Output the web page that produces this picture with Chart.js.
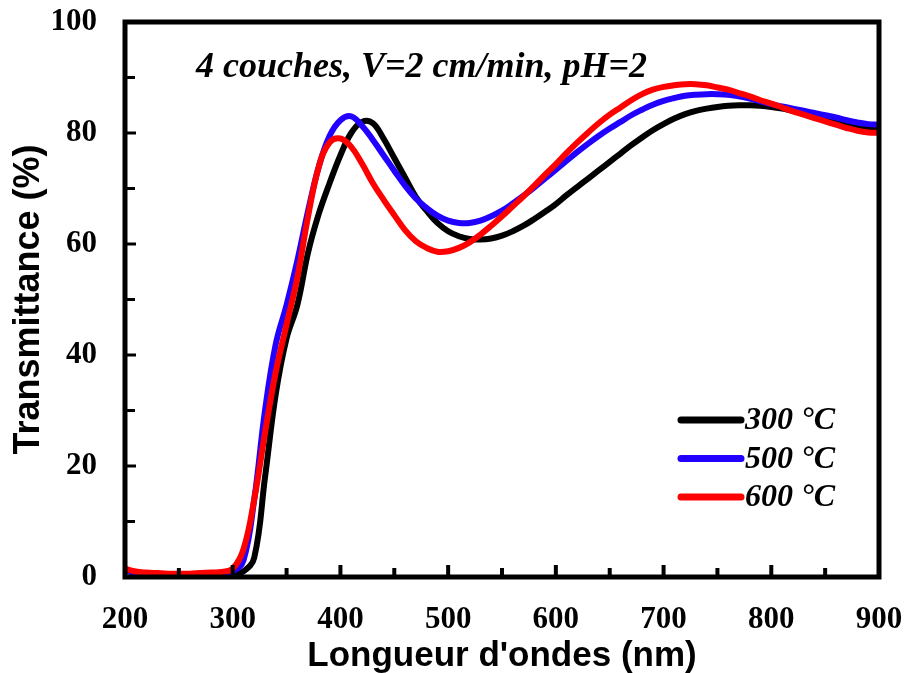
<!DOCTYPE html>
<html><head><meta charset="utf-8">
<script src="https://cdn.jsdelivr.net/npm/chart.js@4/dist/chart.umd.min.js"></script>
<style>html,body{margin:0;padding:0;background:#fff;}canvas{display:block;}</style>
</head><body>
<canvas id="c" width="906" height="673"></canvas>
<script>
const wavelengths = [200,210,220,230,240,250,260,270,280,290,
  300,310,320,330,340,350,360,370,380,390,
  400,410,420,430,440,450,460,470,480,490,
  500,510,520,530,540,550,560,570,580,590,
  600,610,620,630,640,650,660,670,680,690,
  700,710,720,730,740,750,760,770,780,790,
  800,810,820,830,840,850,860,870,880,890,
  900];
const t300 = [1.2,0.8,0.6,0.5,0.5,0.5,0.5,0.6,0.6,0.7,
  0.6,1.0,3.5,18,33,43,49,58.5,65.5,71,
  76,80,82,81.8,79,75.5,72,68.5,66,63.8,
  62.3,61.4,60.9,60.8,61,61.5,62.3,63.3,64.5,65.8,
  67.2,68.8,70.3,71.8,73.3,74.8,76.3,77.8,79.2,80.5,
  81.6,82.6,83.4,84,84.4,84.7,84.9,85,85,84.9,
  84.7,84.4,84,83.6,83.1,82.7,82.2,81.7,81.3,81,
  80.9];
const t500 = [1.2,0.8,0.6,0.5,0.5,0.5,0.5,0.6,0.6,0.8,
  1.0,3,14,30,42,49,57,66,74,79.5,
  82.3,83,81.3,78.8,76,73.2,70.5,68.2,66.5,65.1,
  64.2,63.8,63.8,64.2,65,66,67.3,68.7,70.2,71.8,
  73.4,75,76.6,78.1,79.5,80.8,82,83.2,84.2,85.1,
  85.8,86.3,86.7,86.9,87,87,86.9,86.6,86.2,85.7,
  85.2,84.8,84.4,84,83.6,83.2,82.8,82.3,81.9,81.6,
  81.5];
const t600 = [1.5,1.0,0.8,0.7,0.6,0.6,0.6,0.7,0.8,0.9,
  1.5,5,14,26,37,45.5,54,65,74,78.3,
  79,77.5,74.5,71,68,65.2,62.5,60.5,59.3,58.6,
  58.7,59.3,60.3,61.7,63.3,65,66.8,68.6,70.5,72.5,
  74.4,76.4,78.3,80.1,81.8,83.3,84.6,85.9,87,87.8,
  88.3,88.6,88.8,88.8,88.6,88.2,87.8,87.2,86.6,85.9,
  85.3,84.6,83.9,83.3,82.7,82.1,81.5,80.9,80.4,80.1,
  80];
const seriesLabels = ['300 °C', '500 °C', '600 °C'];
const seriesColors = ['#000000', '#2200ff', '#ff0000'];
const xMajorTicks = [200,300,400,500,600,700,800,900];
const xMinorTicks = [250,350,450,550,650,750,850];
const yMajorTicks = [0,20,40,60,80,100];
const yMinorTicks = [10,30,50,70,90];
const annotationText = '4 couches, V=2 cm/min, pH=2';
const xTitle = "Longueur d'ondes (nm)";
const yTitle = 'Transmittance (%)';

const seriesValues = [t300, t500, t600];
const datasets = seriesValues.map((vals, i) => ({
  label: seriesLabels[i],
  data: wavelengths.map((w, j) => ({x: w, y: vals[j]})),
  borderColor: seriesColors[i],
  backgroundColor: seriesColors[i],
  borderWidth: 6,
  pointRadius: 0,
  tension: 0.4,
  order: 2 - i
}));

const framePlugin = {
  id: 'frameTicks',
  afterDatasetsDraw(chart) {
    const {ctx, chartArea: a, scales: {x, y}} = chart;
    ctx.save();
    ctx.strokeStyle = '#000';
    ctx.lineCap = 'butt';
    ctx.lineWidth = 3;
    yMajorTicks.concat(yMinorTicks).forEach(v => {
      const py = y.getPixelForValue(v);
      const len = yMajorTicks.includes(v) ? 9 : 8;
      ctx.beginPath(); ctx.moveTo(a.left, py); ctx.lineTo(a.left + 2 + len, py); ctx.stroke();
    });
    ctx.lineWidth = 4;
    xMajorTicks.concat(xMinorTicks).forEach(v => {
      const px = x.getPixelForValue(v);
      const len = xMajorTicks.includes(v) ? 10 : 7;
      ctx.beginPath(); ctx.moveTo(px, a.bottom); ctx.lineTo(px, a.bottom - 2 - len); ctx.stroke();
    });
    ctx.lineWidth = 5;
    ctx.lineJoin = 'miter';
    ctx.strokeRect(a.left, a.top, a.right - a.left, a.bottom - a.top);
    ctx.restore();
  }
};

const textPlugin = {
  id: 'texts',
  afterDraw(chart) {
    const {ctx, chartArea: a} = chart;
    ctx.save();
    ctx.fillStyle = '#000';
    ctx.textBaseline = 'middle';
    ctx.textAlign = 'left';
    ctx.font = 'italic bold 36px "Liberation Serif"';
    ctx.fillText(annotationText, a.left + 71, a.top + 46);
    ctx.font = 'italic bold 32px "Liberation Serif"';
    chart.data.datasets.forEach((ds, i) => {
      const yy = a.top + 398 + i * 38.5;
      ctx.strokeStyle = ds.borderColor;
      ctx.lineWidth = 7;
      ctx.lineCap = 'round';
      ctx.beginPath(); ctx.moveTo(a.left + 556, yy); ctx.lineTo(a.left + 616, yy); ctx.stroke();
      ctx.fillText(ds.label, a.left + 620, yy + 1);
    });
    ctx.restore();
  }
};

function zeroPad(s) { s.paddingTop = 0; s.paddingBottom = 0; s.paddingLeft = 0; s.paddingRight = 0; }

new Chart(document.getElementById('c'), {
  type: 'line',
  data: {datasets},
  options: {
    responsive: false,
    animation: false,
    devicePixelRatio: 1,
    layout: {padding: {top: 22, right: 27, left: 0, bottom: 0}},
    plugins: {legend: {display: false}, tooltip: {enabled: false}},
    scales: {
      x: {
        type: 'linear', min: 200, max: 900,
        afterFit(s) { s.height = 96; zeroPad(s); },
        afterBuildTicks(s) { s.ticks = xMajorTicks.map(v => ({value: v})); },
        grid: {display: false, drawTicks: false},
        border: {display: false},
        ticks: {padding: 24, color: '#000', font: {family: '"Liberation Serif"', weight: 'bold', size: 31}},
        title: {display: true, text: xTitle, color: '#000', padding: {top: 0, bottom: -4},
          font: {family: '"Liberation Sans"', weight: 'bold', size: 35}}
      },
      y: {
        type: 'linear', min: 0, max: 100,
        afterFit(s) { s.width = 125; zeroPad(s); },
        afterBuildTicks(s) { s.ticks = yMajorTicks.map(v => ({value: v})); },
        grid: {display: false, drawTicks: false},
        border: {display: false},
        ticks: {padding: 28, color: '#000', font: {family: '"Liberation Serif"', weight: 'bold', size: 31}},
        title: {display: true, text: yTitle, color: '#000', padding: {top: 7, bottom: 0},
          font: {family: '"Liberation Sans"', weight: 'bold', size: 36}}
      }
    }
  },
  plugins: [framePlugin, textPlugin]
});
</script>
</body></html>
